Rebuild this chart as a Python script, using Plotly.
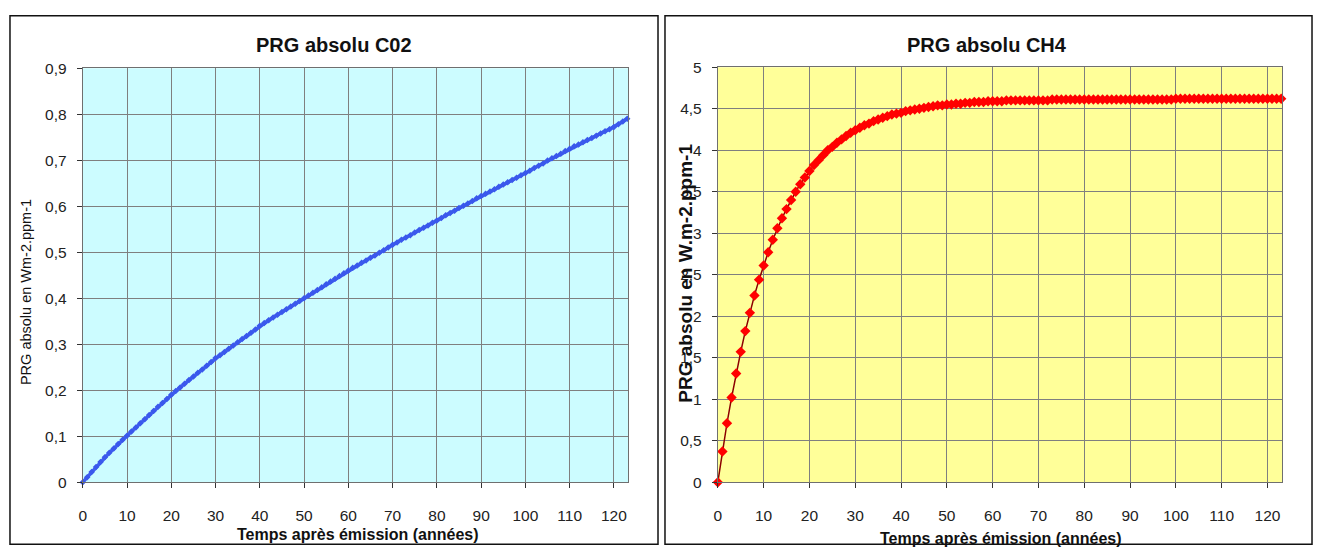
import plotly.graph_objects as go

# ---------------- data ----------------
years = list(range(0, 124))

co2_values = [
    0.000, 0.011, 0.022, 0.033, 0.044, 0.054, 0.064, 0.073, 0.083, 0.092,
    0.101, 0.110, 0.119, 0.128, 0.137, 0.146, 0.155, 0.164, 0.172, 0.181,
    0.190, 0.198, 0.206, 0.214, 0.222, 0.230, 0.238, 0.245, 0.253, 0.261,
    0.270, 0.276, 0.283, 0.290, 0.297, 0.304, 0.311, 0.318, 0.325, 0.332,
    0.340, 0.346, 0.352, 0.358, 0.364, 0.370, 0.376, 0.382, 0.388, 0.394,
    0.400, 0.406, 0.412, 0.418, 0.424, 0.430, 0.436, 0.442, 0.448, 0.454,
    0.460, 0.466, 0.471, 0.477, 0.482, 0.488, 0.493, 0.499, 0.504, 0.510,
    0.516, 0.521, 0.527, 0.532, 0.537, 0.543, 0.548, 0.553, 0.558, 0.564,
    0.569, 0.574, 0.580, 0.585, 0.590, 0.596, 0.601, 0.606, 0.611, 0.617,
    0.622, 0.627, 0.632, 0.637, 0.642, 0.647, 0.652, 0.657, 0.662, 0.667,
    0.672, 0.677, 0.683, 0.688, 0.693, 0.699, 0.704, 0.709, 0.714, 0.720,
    0.725, 0.730, 0.734, 0.739, 0.744, 0.748, 0.753, 0.758, 0.763, 0.767,
    0.772, 0.778, 0.784, 0.790,
]

ch4_values = [
    0.00, 0.37, 0.71, 1.02, 1.31, 1.57, 1.82, 2.04, 2.25, 2.44,
    2.61, 2.77, 2.92, 3.06, 3.18, 3.29, 3.40, 3.50, 3.59, 3.67,
    3.75, 3.82, 3.88, 3.94, 4.00, 4.04, 4.09, 4.13, 4.17, 4.21,
    4.24, 4.27, 4.30, 4.32, 4.35, 4.37, 4.39, 4.41, 4.43, 4.44,
    4.45, 4.47, 4.48, 4.49, 4.50, 4.51, 4.52, 4.53, 4.54, 4.54,
    4.55, 4.55, 4.56, 4.56, 4.57, 4.57, 4.58, 4.58, 4.58, 4.59,
    4.59, 4.59, 4.59, 4.60, 4.60, 4.60, 4.60, 4.60, 4.60, 4.60,
    4.60, 4.60, 4.60, 4.61, 4.61, 4.61, 4.61, 4.61, 4.61, 4.61,
    4.61, 4.61, 4.61, 4.61, 4.61, 4.61, 4.61, 4.61, 4.61, 4.61,
    4.61, 4.61, 4.61, 4.61, 4.61, 4.61, 4.61, 4.61, 4.61, 4.61,
    4.62, 4.62, 4.62, 4.62, 4.62, 4.62, 4.62, 4.62, 4.62, 4.62,
    4.62, 4.62, 4.62, 4.62, 4.62, 4.62, 4.62, 4.62, 4.62, 4.62,
    4.62, 4.62, 4.62, 4.62,
]

title_co2 = "PRG absolu C02"
title_ch4 = "PRG absolu CH4"
xlabel = "Temps après émission (années)"
ylabel_co2 = "PRG absolu en Wm-2.ppm-1"
ylabel_ch4 = "PRG absolu en W.m-2.ppm-1"

# ---------------- figure ----------------
W, H = 1317, 560
FONT = "Liberation Sans, Arial, sans-serif"

def px(x):
    return x / W

def py(y):
    return 1 - y / H

fig = go.Figure()

fig.add_trace(go.Scatter(
    x=years, y=co2_values, mode="lines+markers",
    line=dict(color="#3f5ff0", width=3.5),
    marker=dict(symbol="diamond", size=5, color="#3a58ec"),
    xaxis="x", yaxis="y", showlegend=False, cliponaxis=False,
))
fig.add_trace(go.Scatter(
    x=years, y=ch4_values, mode="lines+markers",
    line=dict(color="#8b0000", width=1.5),
    marker=dict(symbol="diamond", size=8, color="#ff0000"),
    xaxis="x2", yaxis="y2", showlegend=False, cliponaxis=False,
))

axis_common = dict(
    showgrid=True, gridcolor="#7f7f7f", gridwidth=1,
    showline=True, linecolor="#6f6f6f", linewidth=1, mirror=True,
    ticks="outside", ticklen=5, tickcolor="#333333",
    tickfont=dict(family=FONT, size=15.5, color="#222222"),
    zeroline=False,
)

fig.update_layout(
    width=W, height=H,
    margin=dict(l=0, r=0, t=0, b=0),
    paper_bgcolor="white",
    separators=", ",
    font=dict(family=FONT),
    xaxis=dict(domain=[px(79), px(626)], range=[0, 123.2], dtick=10, tick0=0,
               anchor="y", ticklabelstandoff=14, **axis_common),
    yaxis=dict(domain=[py(488), py(61)], range=[0, 0.9], dtick=0.1, tick0=0,
               anchor="x", ticklabelstandoff=7, **axis_common),
    xaxis2=dict(domain=[px(716), px(1282)], range=[0, 123.2], dtick=10, tick0=0,
                anchor="y2", ticklabelstandoff=14, **axis_common),
    yaxis2=dict(domain=[py(488), py(60)], range=[0, 5], dtick=0.5, tick0=0,
                anchor="x2", ticklabelstandoff=7, **axis_common),
    plot_bgcolor="white",
)

# plot area backgrounds
fig.add_shape(type="rect", xref="x domain", yref="y domain", x0=0, x1=1, y0=0, y1=1,
              fillcolor="#ccfcff", line=dict(width=0), layer="below")
fig.add_shape(type="rect", xref="x2 domain", yref="y2 domain", x0=0, x1=1, y0=0, y1=1,
              fillcolor="#ffff99", line=dict(width=0), layer="below")

# panel frames
fig.add_shape(type="rect", xref="paper", yref="paper",
              x0=px(6), x1=px(656), y0=py(552), y1=py(7),
              line=dict(color="#111111", width=1.5))
fig.add_shape(type="rect", xref="paper", yref="paper",
              x0=px(663), x1=px(1312), y0=py(552), y1=py(7),
              line=dict(color="#111111", width=1.5))

def ann(text, x, y, size, bold=False, angle=0):
    fig.add_annotation(
        text=f"<b>{text}</b>" if bold else text,
        x=px(x), y=py(y), xref="paper", yref="paper",
        showarrow=False, textangle=angle,
        font=dict(family=FONT, size=size, color="#111111"),
        xanchor="center", yanchor="middle",
    )

ann(title_co2, 331, 37, 20, bold=True)
ann(title_ch4, 986, 37, 20, bold=True)
ann(xlabel, 355, 542, 16, bold=True)
ann(xlabel, 1000, 546, 16, bold=True)
ann(ylabel_co2, 22, 292, 14.5, angle=-90)
ann(ylabel_ch4, 684, 272, 19, bold=True, angle=-90)

fig.write_html("out.html")
